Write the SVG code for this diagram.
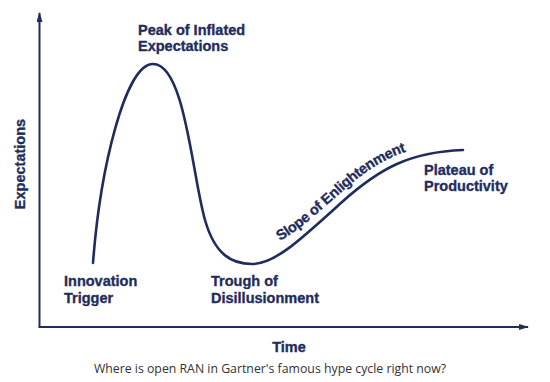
<svg xmlns="http://www.w3.org/2000/svg" width="550" height="382" viewBox="0 0 550 382">
<style>
.lbl{font-family:"Liberation Sans",Arial,sans-serif;font-weight:bold;font-size:14.5px;fill:#1f2d5c;stroke:#1f2d5c;stroke-width:0.35}
.axis{stroke:#1f2d5c;stroke-width:2;fill:none}
.curve{stroke:#1f2d5c;stroke-width:2.6;fill:none;stroke-linecap:round}
.cap{font-family:"Open Sans",sans-serif;font-size:12.3px;fill:#333}
</style>
<defs>
<marker id="ah" viewBox="0 0 10 6" refX="9" refY="3" markerWidth="5" markerHeight="3" orient="auto" markerUnits="strokeWidth">
<path d="M0,0 L10,3 L0,6 z" fill="#1f2d5c"/>
</marker>
<path id="slopePath" d="M280,241 C300,229 318,213 337,196 C365,171 385,156 425,146"/>
</defs>
<rect width="550" height="382" fill="#fff"/>
<g id="connectors">
<path id="y-axis" class="axis" d="M39.5,327 L39.5,13" marker-end="url(#ah)"/>
<path id="x-axis" class="axis" d="M38.5,327 L528,327" marker-end="url(#ah)"/>
<path id="hype-curve" class="curve" d="M93,263 C100,170 125,64 153,64 C185,64 192,175 205,220 C215,255 232,264 252,264 C275,264 300,240 342,202 C380,168 410,152 463,150"/>
</g>
<g id="y-label"><text class="lbl" transform="translate(25,164) rotate(-90)" text-anchor="middle">Expectations</text></g>
<g id="x-label"><text class="lbl" x="289" y="352" text-anchor="middle">Time</text></g>
<g id="peak"><text class="lbl" x="138" y="35">Peak of Inflated</text><text class="lbl" x="138" y="51">Expectations</text></g>
<g id="trigger"><text class="lbl" x="64" y="286">Innovation</text><text class="lbl" x="64" y="303">Trigger</text></g>
<g id="trough"><text class="lbl" x="211" y="286">Trough of</text><text class="lbl" x="211" y="303">Disillusionment</text></g>
<g id="slope"><text class="lbl" font-size="14px" letter-spacing="-0.3"><textPath href="#slopePath">Slope of Enlightenment</textPath></text></g>
<g id="plateau"><text class="lbl" x="424" y="175">Plateau of</text><text class="lbl" x="424" y="191">Productivity</text></g>
<g id="caption"><text class="cap" x="270" y="373" text-anchor="middle">Where is open RAN in Gartner's famous hype cycle right now?</text></g>
</svg>
